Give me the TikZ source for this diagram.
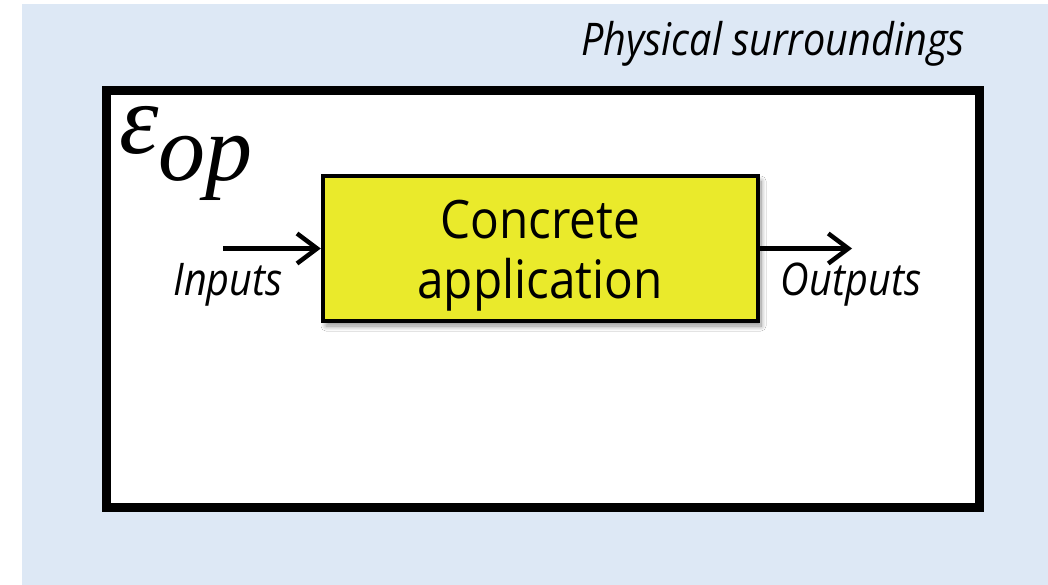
\documentclass[tikz,border=0pt]{standalone}
\usepackage{fontspec}
\newfontfamily\uifont[FakeStretch=0.9]{Open Sans}
\newfontfamily\uiitfont[FakeStretch=0.88]{Open Sans}
\newfontfamily\greekit{Liberation Serif}
\usetikzlibrary{arrows.meta,shadows.blur}
\definecolor{surround}{RGB}{221,232,245}
\definecolor{appyellow}{RGB}{234,234,43}
\tikzset{
  frame/.style={draw=black,line width=9pt,fill=white},
  appbox/.style={draw=black,line width=4.5pt,fill=appyellow,
    blur shadow={shadow xshift=3pt,shadow yshift=-5pt,shadow blur radius=5pt,shadow blur steps=12,shadow opacity=45}},
  flow/.style={line width=4.5pt,-{Straight Barb[length=20pt,width=30pt,line width=4.5pt]}},
  itlabel/.style={font=\uiitfont\itshape\fontsize{45}{50}\selectfont,inner sep=0pt},
}
\begin{document}
\begin{tikzpicture}[x=1pt,y=-1pt]
\useasboundingbox (0,0) rectangle (1048,585);
\fill[surround] (22,4) rectangle (1048,585);
\node[itlabel,anchor=base east] (phys) at (965,56) {Physical surroundings};
\draw[frame] (106.5,90.5) rectangle (979,507);
\node[anchor=base west,inner sep=0pt] (eps) at (119,154)
  {\greekit\itshape\fontsize{100}{100}\selectfont ε\lower27pt\hbox{\fontsize{94}{94}\selectfont op}};
\node[appbox,minimum width=435pt,minimum height=145pt,inner sep=0pt] (app) at (540.5,248.5) {};
\node[anchor=base,inner sep=0pt,font=\uifont\fontsize{53}{60}\selectfont] (l1) at (540,238) {Concrete};
\node[anchor=base,inner sep=0pt,font=\uifont\fontsize{53}{60}\selectfont] (l2) at (540,298) {application};
\coordinate (inStart) at (223,248.5);
\coordinate (outEnd) at (852,248.5);
\draw[flow] (inStart) -- (app.west);
\draw[flow] (app.east) -- (outEnd);
\node[itlabel,anchor=base] (inputs) at (228,295) {Inputs};
\node[itlabel,anchor=base] (outputs) at (851,295) {Outputs};
\end{tikzpicture}
\end{document}
